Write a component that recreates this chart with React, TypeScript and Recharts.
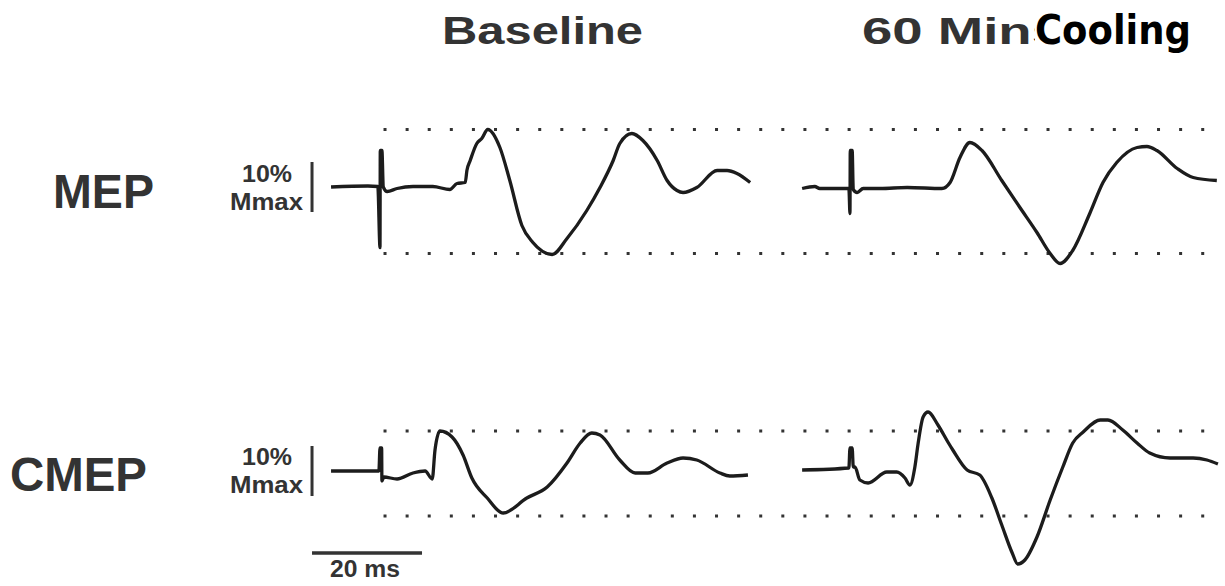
import { LineChart, Line, XAxis, YAxis, ReferenceLine } from 'recharts'

// [time after stimulus (ms), amplitude (% Mmax)]
const mepBaseline: [number, number][] = [
  [-8.9, 0], [-2.2, 0.2], [-0.4, 0.1], [0, -12.1], [0.05, 7.3], [0.35, 7.3], [0.6, 0],
  [1.3, -0.9], [3.1, -0.3], [6.0, 0.1], [9.6, 0.1], [12.7, -0.5], [14.0, 0.7], [15.5, 0.9],
  [15.8, 3.3], [16.4, 5.3], [17.6, 8.7], [18.5, 9.7], [19.6, 11.5], [21.8, 7.9], [23.6, 1.3],
  [25.8, -7.7], [27.8, -11.1], [31.3, -13.5], [34.0, -10.3], [37.6, -4.7], [40.0, -0.1],
  [42.4, 5.3], [43.6, 8.7], [45.8, 10.7], [47.8, 9.3], [50.4, 5.3], [52.2, 1.3], [54.0, -0.7],
  [55.1, -1.1], [57.6, -0.1], [61.3, 3.3], [63.1, 3.3], [64.9, 2.7], [67.3, 0.9],
]

const mepCooling: [number, number][] = [
  [-8.7, -0.3], [-6.4, 0.1], [-5.5, -0.3], [-0.2, -0.3], [0, -5.3], [0.05, 7.3], [0.4, 7.3],
  [0.6, -0.5], [1.3, -1.1], [2.4, -0.3], [5.5, -0.3], [10.4, -0.1], [16.7, -0.3], [18.2, 0.9],
  [20.0, 5.9], [21.8, 8.9], [24.0, 7.3], [27.6, 1.3], [30.9, -4.1], [34.0, -9.1], [36.4, -13.3],
  [38.2, -15.3], [40.5, -12.7], [43.6, -5.3], [46.0, 0.9], [48.5, 4.9], [52.2, 7.9],
  [54.0, 8.1], [55.8, 7.3], [59.5, 3.7], [62.4, 1.9], [66.7, 1.3],
]

const cmepBaseline: [number, number][] = [
  [-8.9, 0], [-6.0, 0], [-0.2, 0], [0, 4.6], [0.3, 4.6], [0.35, -2.0], [0.7, -1.2],
  [3.1, -1.6], [6.0, -0.4], [8.2, 0], [9.5, -1.6], [10.0, 4.2], [10.9, 8.0], [13.1, 6.8],
  [15.1, 3.2], [16.7, -1.4], [19.5, -5.4], [22.4, -8.4], [26.7, -5.4], [30.4, -3.2],
  [34.0, 1.6], [36.4, 5.6], [38.5, 7.6], [40.0, 7.2], [43.6, 2.2], [46.4, -0.4], [48.7, -0.4],
  [52.2, 1.6], [55.1, 2.6], [57.6, 2.2], [61.8, -0.4], [63.6, -1.0], [66.9, -0.8],
]

const cmepCooling: [number, number][] = [
  [-8.7, 0.2], [-0.2, 0.6], [0, 4.6], [0.4, 4.6], [0.6, 0.8], [0.9, 0.8], [1.8, -1.8],
  [3.3, -2.4], [6.7, -0.2], [8.5, -0.2], [10.0, -1.4], [10.9, -2.8], [11.8, 0.8], [12.4, 5.6],
  [13.3, 10.8], [14.2, 11.8], [16.0, 9.2], [17.8, 5.8], [18.7, 4.2], [21.3, 0.2], [23.6, -0.8],
  [25.8, -5.4], [27.6, -10.8], [29.5, -16.4], [30.5, -18.6], [31.8, -17.8], [34.0, -13.2],
  [36.4, -5.8], [38.7, 0.8], [40.5, 5.6], [42.4, 7.8], [45.5, 10.2], [46.9, 10.2], [49.6, 8.2],
  [52.2, 5.6], [54.5, 3.6], [58.2, 2.6], [62.4, 2.6], [64.9, 2.2], [66.9, 1.4],
]

// dotted guide levels (% Mmax) for each row
const mepLevels = [11.5, -13.3]
const cmepLevels = [8.0, -9.0]

const columnTitles = ['Baseline', '60 Mins', 'Cooling']
const rowLabels = ['MEP', 'CMEP']
const ampBarLabel = ['10%', 'Mmax']
const timeBarLabel = '20 ms'

// the cooling column sits to the right of the baseline column on the same time scale
const COOLING_SHIFT = 85.45
const X_DOMAIN: [number, number] = [-14, 153]
const CHART_W = 918.5
const BAR_T = -12.36
const TRACE = '#1c1c1c'
const INK = '#333'

const toPoints = (trace: [number, number][], shift = 0) =>
  trace.map(([t, v]) => ({ t: t + shift, v }))

function TraceRow({
  baseline,
  cooling,
  levels,
  yDomain,
  top,
  height,
  withTimeBar,
}: {
  baseline: [number, number][]
  cooling: [number, number][]
  levels: number[]
  yDomain: [number, number]
  top: number
  height: number
  withTimeBar?: boolean
}) {
  return (
    <div style={{ position: 'absolute', left: 303, top }}>
      <LineChart width={CHART_W} height={height} margin={{ top: 0, right: 0, bottom: 0, left: 0 }}>
        <XAxis type="number" dataKey="t" domain={X_DOMAIN} hide allowDataOverflow />
        <YAxis type="number" dataKey="v" domain={yDomain} hide allowDataOverflow />
        {levels.map(l => (
          <ReferenceLine
            key={l}
            segment={[{ x: 0.64, y: l }, { x: 150, y: l }]}
            stroke={INK}
            strokeWidth={3}
            strokeDasharray="3 19.1"
          />
        ))}
        <ReferenceLine
          segment={[{ x: BAR_T, y: -5 }, { x: BAR_T, y: 5 }]}
          stroke={INK}
          strokeWidth={3}
        />
        {withTimeBar && (
          <ReferenceLine
            segment={[{ x: BAR_T, y: -16.4 }, { x: BAR_T + 20, y: -16.4 }]}
            stroke={INK}
            strokeWidth={3.5}
          />
        )}
        <Line
          data={toPoints(baseline)}
          dataKey="v"
          type="monotoneX"
          stroke={TRACE}
          strokeWidth={3.3}
          strokeLinejoin="round"
          dot={false}
          isAnimationActive={false}
        />
        <Line
          data={toPoints(cooling, COOLING_SHIFT)}
          dataKey="v"
          type="monotoneX"
          stroke={TRACE}
          strokeWidth={3.3}
          strokeLinejoin="round"
          dot={false}
          isAnimationActive={false}
        />
      </LineChart>
    </div>
  )
}

const sans = "'Liberation Sans', Arial, Helvetica, sans-serif"
const narrow = "'Liberation Sans Narrow', 'DejaVu Sans Condensed', 'Liberation Sans', sans-serif"

export default function App() {
  return (
    <div
      style={{
        position: 'absolute',
        left: 0,
        top: 0,
        width: 1225,
        height: 586,
        background: '#fff',
        overflow: 'hidden',
      }}
    >
      <TraceRow
        baseline={mepBaseline}
        cooling={mepCooling}
        levels={mepLevels}
        yDomain={[-17, 14]}
        top={116.5}
        height={155}
      />
      <TraceRow
        baseline={cmepBaseline}
        cooling={cmepCooling}
        levels={cmepLevels}
        yDomain={[-21, 13]}
        top={406}
        height={170}
        withTimeBar
      />
      <svg
        width={1225}
        height={586}
        style={{ position: 'absolute', left: 0, top: 0, pointerEvents: 'none' }}
      >
        <g fontFamily={sans} fontWeight="bold" fill={INK}>
          <text x={442} y={44} fontSize={38} textLength={201} lengthAdjust="spacingAndGlyphs">
            {columnTitles[0]}
          </text>
          <text x={862} y={44} fontSize={37} textLength={200} lengthAdjust="spacingAndGlyphs">
            {columnTitles[1]}
          </text>
          <text x={53} y={208} fontSize={48} textLength={101} lengthAdjust="spacingAndGlyphs">
            {rowLabels[0]}
          </text>
          <text x={10} y={491} fontSize={48} textLength={137} lengthAdjust="spacingAndGlyphs">
            {rowLabels[1]}
          </text>
          {[182, 465].map(y => (
            <g key={y}>
              <text x={242} y={y} fontSize={24} textLength={50} lengthAdjust="spacingAndGlyphs">
                {ampBarLabel[0]}
              </text>
              <text x={230} y={y + 28} fontSize={24} textLength={73} lengthAdjust="spacingAndGlyphs">
                {ampBarLabel[1]}
              </text>
            </g>
          ))}
          <text x={330} y={577} fontSize={23} textLength={70} lengthAdjust="spacingAndGlyphs">
            {timeBarLabel}
          </text>
        </g>
        <rect x={1035} y={0} width={190} height={72} fill="#fff" />
        <text
          x={1035}
          y={44}
          fontFamily={narrow}
          fontWeight="bold"
          fontSize={40}
          fill="#000"
          textLength={156}
          lengthAdjust="spacingAndGlyphs"
        >
          {columnTitles[2]}
        </text>
      </svg>
    </div>
  )
}
